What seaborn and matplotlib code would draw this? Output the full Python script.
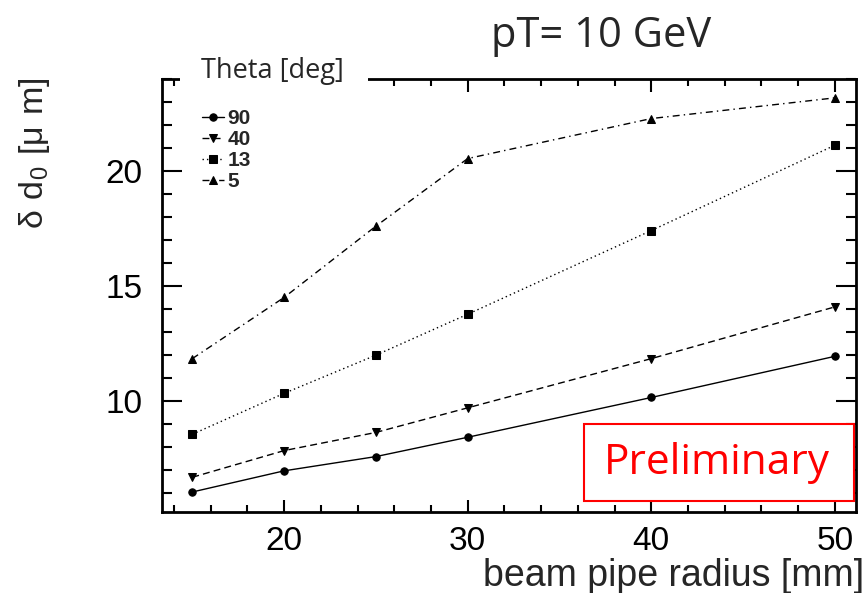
import matplotlib
matplotlib.use("Agg")
import matplotlib.pyplot as plt
import seaborn as sns
import pandas as pd
from matplotlib.ticker import MultipleLocator
from matplotlib.patches import Rectangle

radius = [15, 20, 25, 30, 40, 50]
theta_labels = ["90", "40", "13", "5"]
d0_90 = [6.04, 6.96, 7.58, 8.42, 10.15, 11.94]
d0_40 = [6.68, 7.84, 8.63, 9.70, 11.84, 14.09]
d0_13 = [8.55, 10.33, 11.99, 13.77, 17.41, 21.12]
d0_5 = [11.84, 14.50, 17.60, 20.54, 22.28, 23.18]

series = {"90": d0_90, "40": d0_40, "13": d0_13, "5": d0_5}
rows = []
for lab in theta_labels:
    for x, y in zip(radius, series[lab]):
        rows.append({"radius": x, "d0": y, "theta": lab})
df = pd.DataFrame(rows)

sns.set_theme(style="ticks")
plt.rcParams["font.family"] = ["Liberation Sans", "DejaVu Sans"]

fig = plt.figure(figsize=(8.67, 5.93), dpi=100)
ax = fig.add_axes([162/867, 1-512/593, (856-162)/867, (512-79)/593])

styles = {
    "90": dict(marker="o", linestyle="-", ms=5.3),
    "40": dict(marker="v", linestyle=(0, (5, 3)), ms=5.3),
    "13": dict(marker="s", linestyle=(0, (1, 2.2)), ms=5.3),
    "5": dict(marker="^", linestyle=(0, (5, 3, 1, 3)), ms=5.3),
}
for lab in theta_labels:
    sub = df[df["theta"] == lab]
    st = styles[lab]
    sns.lineplot(data=sub, x="radius", y="d0", ax=ax, color="black",
                 marker=st["marker"], linestyle=st["linestyle"],
                 markersize=st["ms"], markeredgecolor="black",
                 linewidth=1.0, label=lab, estimator=None, sort=False)

ax.set_xlim(13.35, 51.15)
ax.set_ylim(5.17, 24.0)
ax.xaxis.set_major_locator(MultipleLocator(10))
ax.xaxis.set_minor_locator(MultipleLocator(2))
ax.yaxis.set_major_locator(MultipleLocator(5))
ax.yaxis.set_minor_locator(MultipleLocator(1))
ax.tick_params(axis="both", which="both", direction="in", top=True, right=True,
               labelsize=24, width=1.5, colors="black")
ax.tick_params(axis="x", which="major", length=9, pad=10)
ax.tick_params(axis="x", which="minor", length=5)
ax.tick_params(axis="y", which="major", length=14.5, pad=14)
ax.tick_params(axis="y", which="minor", length=7)
for s in ax.spines.values():
    s.set_linewidth(2)
    s.set_color("black")

ax.set_xlabel("")
ax.set_ylabel("")
fig.text(864/867, 1-576/593, "beam pipe radius [mm]", ha="right", va="center",
         fontsize=27)
fig.text(35/867, 1-153/593, r"$\mathregular{\delta\ d_0\ [\mu\ m]}$", rotation=90,
         ha="center", va="center", fontsize=24.5)

leg = ax.legend(loc="upper left", bbox_to_anchor=(0.042, 0.955), frameon=False,
                handlelength=1.1, handletextpad=0.15, labelspacing=0.1,
                borderpad=0, prop={"weight": "bold", "size": 15})

# Theta label with white background over top spine
fig.patches.append(Rectangle((180/867, 1-92/593), (368-180)/867, 20/593,
                             transform=fig.transFigure, facecolor="white",
                             edgecolor="none", zorder=5))
fig.text(272/867, 1-71/593, "Theta [deg]", ha="center", va="center",
         fontsize=19.5, family=["Open Sans", "DejaVu Sans"], zorder=6)

fig.text(601/867, 1-36/593, "pT= 10 GeV", ha="center", va="center",
         fontsize=30, family=["Open Sans", "DejaVu Sans"])

# Preliminary box
fig.patches.append(Rectangle((584/867, 1-501/593), (854-584)/867, (501-424)/593,
                             transform=fig.transFigure, facecolor="white",
                             edgecolor="red", linewidth=1.5, zorder=5))
fig.text(717/867, 1-463/593, "Preliminary", ha="center", va="center",
         fontsize=30.5, color="red", family=["Open Sans", "DejaVu Sans"], zorder=6)

fig.savefig("out.png", dpi=100)
